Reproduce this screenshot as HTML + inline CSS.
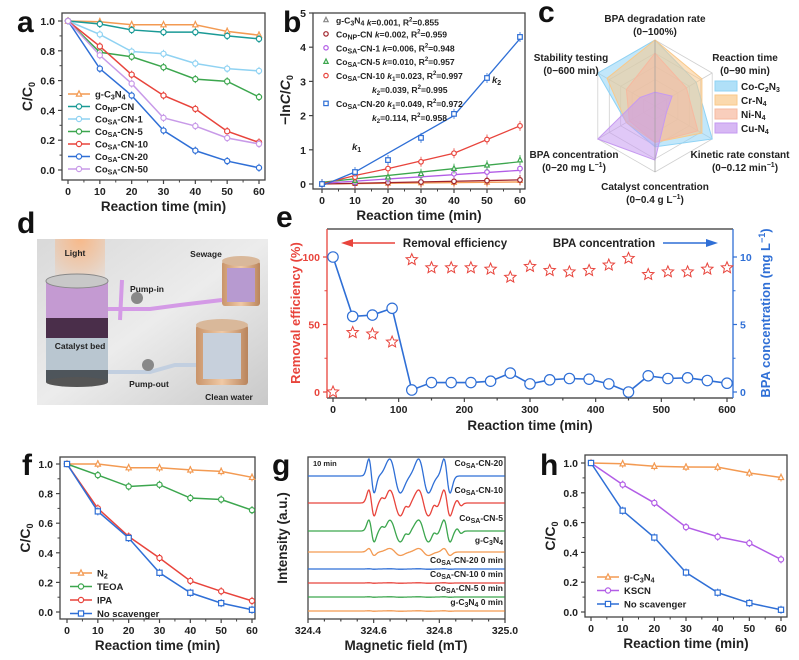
<!DOCTYPE html>
<html><head><meta charset="utf-8"><style>
html,body{margin:0;padding:0;background:#fff;}
svg{display:block;font-family:"Liberation Sans",Arial,sans-serif;font-weight:bold;}
</style></head><body>
<svg id="s" width="799" height="660" viewBox="0 0 799 660" xmlns="http://www.w3.org/2000/svg">
<defs>
<linearGradient id="bg" x1="0" y1="0" x2="1" y2="1"><stop offset="0" stop-color="#d9d9d9"/><stop offset="0.5" stop-color="#ececec"/><stop offset="1" stop-color="#c9c9c9"/></linearGradient>
<linearGradient id="cu" x1="0" y1="0" x2="1" y2="0"><stop offset="0" stop-color="#c9946a"/><stop offset="0.5" stop-color="#f0c9a5"/><stop offset="1" stop-color="#b9845c"/></linearGradient>
<radialGradient id="light" cx="0.5" cy="0" r="0.9"><stop offset="0" stop-color="#f7b98a"/><stop offset="1" stop-color="#f7b98a" stop-opacity="0"/></radialGradient>
</defs>
<g id="root"></g>
</svg>
<script>
const R=document.getElementById('root');let H='';
function t(x,y,s,sz,o){o=o||{};H+=`<text x="${x}" y="${y}" font-size="${sz}" ${o.a?`text-anchor="${o.a}"`:''} fill="${o.c||'#222'}" ${o.tr?`transform="${o.tr}"`:''} ${o.w?`font-weight="${o.w}"`:''}>${s}</text>`;}
function l(x1,y1,x2,y2,c,w){H+=`<line x1="${x1}" y1="${y1}" x2="${x2}" y2="${y2}" stroke="${c||'#333'}" stroke-width="${w||1}"/>`;}
function pl(pts,c,w){H+=`<polyline points="${pts.map(p=>p.join(',')).join(' ')}" fill="none" stroke="${c}" stroke-width="${w||1.5}"/>`;}
function mk(x,y,c,r,sh){r=r||3;if(sh==='sq')H+=`<rect x="${x-r}" y="${y-r}" width="${2*r}" height="${2*r}" fill="#fff" stroke="${c}" stroke-width="1.2"/>`;else if(sh==='tri')H+=`<polygon points="${x},${y-r-0.5} ${x-r},${y+r-0.5} ${x+r},${y+r-0.5}" fill="#fff" stroke="${c}" stroke-width="1.2"/>`;else H+=`<circle cx="${x}" cy="${y}" r="${r}" fill="#fff" stroke="${c}" stroke-width="1.2"/>`;}
function star(x,y,c,r){let p=[];for(let i=0;i<10;i++){let a=-Math.PI/2+i*Math.PI/5,rr=i%2?r*0.45:r;p.push((x+rr*Math.cos(a)).toFixed(1)+','+(y+rr*Math.sin(a)).toFixed(1));}H+=`<polygon points="${p.join(' ')}" fill="none" stroke="${c}" stroke-width="1"/>`;}
function frame(x1,y1,x2,y2){H+=`<rect x="${x1}" y="${y1}" width="${x2-x1}" height="${y2-y1}" fill="none" stroke="#444" stroke-width="1.3"/>`;}
function xaxis(x0,x60,yb,vals,labs,minor){vals.forEach((v,i)=>{let x=x0+(x60-x0)*v;l(x,yb,x,yb+4,'#444',1.2);t(x,yb+15,labs[i],10.5,{a:'middle'});});if(minor)minor.forEach(v=>{let x=x0+(x60-x0)*v;l(x,yb,x,yb+2.5,'#444',1);});}
const T=[0,10,20,30,40,50,60];
function cc(o){
 const {x0,x60,y1,y0,fl,fr,ft,fb}=o;frame(fl,ft,fr,fb);
 const X=v=>x0+(x60-x0)*v/60,Y=v=>y0+(y1-y0)*v;
 [0,.2,.4,.6,.8,1].forEach(v=>{l(fl,Y(v),fl-4,Y(v),'#444',1.2);t(fl-7,Y(v)+4,v.toFixed(1),10.5,{a:'end'});});
 [.1,.3,.5,.7,.9].forEach(v=>l(fl,Y(v),fl-2.5,Y(v),'#444',1));
 xaxis(x0,x60,fb,[0,1/6,2/6,3/6,4/6,5/6,1],['0','10','20','30','40','50','60'],[1/12,3/12,5/12,7/12,9/12,11/12]);
 t((fl+fr)/2,fb+31,'Reaction time (min)',13.5,{a:'middle'});
 t(fl-30,(ft+fb)/2,'C/C<tspan font-size="9" dy="3">0</tspan>',14,{a:'middle',tr:`rotate(-90 ${fl-30} ${(ft+fb)/2})`});
 o.s.forEach(s=>{pl(s.d.map((v,i)=>[X(T[i]),Y(v)]),s.c,1.5);s.d.forEach((v,i)=>{if(i>0){l(X(T[i]),Y(v)-4,X(T[i]),Y(v)+4,s.c,1);}mk(X(T[i]),Y(v),s.c,2.6,s.m);});});
 o.s.forEach((s,i)=>{let y=o.ly+i*o.ld;l(o.lx,y,o.lx+22,y,s.c,1.5);mk(o.lx+11,y,s.c,2.6,s.m);t(o.lx+27,y+3.5,s.n,o.fs||9.5);});
}
const OR='#f39a52',TE='#1a9a96',LB='#8fd2f2',GR='#3ca64e',RD='#e8443c',BL='#2f6fd6',LI='#c89ae8',PU='#b25de6';
const co=(x)=>`Co<tspan font-size="7" dy="2">SA</tspan><tspan dy="-2">${x}</tspan>`;
const gcn='g-C<tspan font-size="7" dy="2">3</tspan><tspan dy="-2">N</tspan><tspan font-size="7" dy="2">4</tspan><tspan dy="-2"></tspan>';
cc({x0:68,x60:259,y1:21,y0:170,fl:62,fr:265,ft:13,fb:180,lx:68,ly:94,ld:12.5,fs:9.5,s:[
{n:gcn,c:OR,m:'tri',d:[1,.995,.975,.975,.975,.93,.905]},
{n:'Co<tspan font-size="7" dy="2">NP</tspan><tspan dy="-2">-CN</tspan>',c:TE,d:[1,.98,.94,.925,.925,.90,.88]},
{n:co('-CN-1'),c:LB,d:[1,.91,.795,.78,.715,.68,.665]},
{n:co('-CN-5'),c:GR,d:[1,.79,.76,.69,.61,.595,.49]},
{n:co('-CN-10'),c:RD,d:[1,.83,.64,.50,.41,.26,.185]},
{n:co('-CN-20'),c:BL,d:[1,.68,.50,.265,.13,.06,.015]},
{n:co('-CN-50'),c:LI,d:[1,.77,.58,.35,.295,.215,.175]}]});
(function(){const x0=322,x60=520,y0=184,sc=34.2;frame(313,13,525,189);
const X=v=>x0+(x60-x0)*v/60,Y=v=>y0-sc*v;
[0,1,2,3,4,5].forEach(v=>{l(313,Y(v),309,Y(v),'#444',1.2);t(306,Y(v)+4,v,10.5,{a:'end'});});
xaxis(x0,x60,189,[0,1/6,2/6,3/6,4/6,5/6,1],['0','10','20','30','40','50','60'],[1/12,3/12,5/12,7/12,9/12,11/12]);
t(419,220,'Reaction time (min)',13.5,{a:'middle'});
t(290,100,'−ln<tspan font-style="italic">C</tspan>/<tspan font-style="italic">C</tspan><tspan font-size="9" dy="3">0</tspan>',14,{a:'middle',tr:'rotate(-90 290 100)'});
const S=[[OR,[0,.01,.02,.03,.04,.05,.1],'tri',[[0,0],[60,.06]]],['#a0222a',[0,.02,.04,.06,.08,.1,.12],'c',[[0,0],[60,.12]]],[PU,[0,.05,.15,.25,.3,.35,.45],'c',[[0,.02],[60,.4]]],[GR,[0,.1,.2,.3,.45,.55,.7],'tri',[[0,.05],[60,.65]]],[RD,[0,.2,.45,.65,.9,1.3,1.7],'c',[[0,.0],[10,.25],[20,.45],[40,.9],[60,1.7]]],[BL,[0,.35,.7,1.35,2.05,3.1,4.3],'sq',[[0,-.05],[10,.35],[20,.9],[40,2.0],[60,4.25]]]];
S.forEach(s=>{pl(s[3].map(p=>[X(p[0]),Y(p[1])]),s[0],1.3);s[1].forEach((v,i)=>{l(X(T[i]),Y(v)-5,X(T[i]),Y(v)+5,s[0],0.8);mk(X(T[i]),Y(v),s[0],2.3,s[2]);});});
t(352,150,'<tspan font-style="italic">k</tspan><tspan font-size="7" dy="2">1</tspan>',9.5);
t(492,83,'<tspan font-style="italic">k</tspan><tspan font-size="7" dy="2">2</tspan>',9.5);
const K='<tspan font-style="italic">k</tspan>';
const L=[['#888','tri',gcn+' '+K+'=0.001, R<tspan font-size="6" dy="-4">2</tspan><tspan dy="4">=0.855</tspan>'],['#a0222a','c','Co<tspan font-size="7" dy="2">NP</tspan><tspan dy="-2">-CN '+K+'=0.002, R</tspan><tspan font-size="6" dy="-4">2</tspan><tspan dy="4">=0.959</tspan>'],[PU,'c',co('-CN-1 '+K+'=0.006, R')+'<tspan font-size="6" dy="-4">2</tspan><tspan dy="4">=0.948</tspan>'],[GR,'tri',co('-CN-5 '+K+'=0.010, R')+'<tspan font-size="6" dy="-4">2</tspan><tspan dy="4">=0.957</tspan>'],[RD,'c',co('-CN-10 '+K+'<tspan font-size="6" dy="2">1</tspan><tspan dy="-2">=0.023, R</tspan>')+'<tspan font-size="6" dy="-4">2</tspan><tspan dy="4">=0.997</tspan>'],[null,null,K+'<tspan font-size="6" dy="2">2</tspan><tspan dy="-2">=0.039, R</tspan><tspan font-size="6" dy="-4">2</tspan><tspan dy="4">=0.995</tspan>'],[BL,'sq',co('-CN-20 '+K+'<tspan font-size="6" dy="2">1</tspan><tspan dy="-2">=0.049, R</tspan>')+'<tspan font-size="6" dy="-4">2</tspan><tspan dy="4">=0.972</tspan>'],[null,null,K+'<tspan font-size="6" dy="2">2</tspan><tspan dy="-2">=0.114, R</tspan><tspan font-size="6" dy="-4">2</tspan><tspan dy="4">=0.958</tspan>']];
L.forEach((e,i)=>{let y=20+i*13.9;if(e[0]){mk(326,y,e[0],2.2,e[1]);t(336,y+3.5,e[2],8.6);}else t(372,y+3.5,e[2],8.6);});
})();
(function(){const cx=655,cy=106,r=66;const ang=[-90,-30,30,90,150,210].map(a=>a*Math.PI/180);
const P=(vals)=>vals.map((v,i)=>(cx+r*v*Math.cos(ang[i])).toFixed(1)+','+(cy+r*v*Math.sin(ang[i])).toFixed(1)).join(' ');
[.2,.4,.6,.8,1].forEach(v=>H+=`<polygon points="${P([v,v,v,v,v,v])}" fill="none" stroke="#d0d0d0" stroke-width="0.8"/>`);
ang.forEach(a=>l(cx,cy,cx+r*Math.cos(a),cy+r*Math.sin(a),'#cfcfcf',0.8));
const polys=[['#8fd3f5',[1,.72,1,.62,.5,1]],['#f9c98a',[1,.82,.82,.55,.5,.84]],['#f6b9a0',[.8,.55,.75,.55,.45,.5]],['#c69af0',[.21,.3,.2,.82,1,.26]]];
polys.forEach(p=>H+=`<polygon points="${P(p[1])}" fill="${p[0]}" fill-opacity="0.55" stroke="${p[0]}" stroke-width="1"/>`);
l(cx,cy-r,cx,cy+r,'#999',0.6);
t(655,22,'BPA degradation rate',10,{a:'middle'});t(655,35,'(0−100%)',10,{a:'middle'});
t(745,61,'Reaction time',10,{a:'middle'});t(745,74,'(0−90 min)',10,{a:'middle'});
t(571,61,'Stability testing',10,{a:'middle'});t(571,74,'(0−600 min)',10,{a:'middle'});
t(740,158,'Kinetic rate constant',10,{a:'middle'});t(745,171,'(0−0.12 min<tspan font-size="7" dy="-4">−1</tspan><tspan dy="4">)</tspan>',10,{a:'middle'});
t(574,158,'BPA concentration',10,{a:'middle'});t(574,171,'(0−20 mg L<tspan font-size="7" dy="-4">−1</tspan><tspan dy="4">)</tspan>',10,{a:'middle'});
t(655,190,'Catalyst concentration',10,{a:'middle'});t(655,203,'(0−0.4 g L<tspan font-size="7" dy="-4">−1</tspan><tspan dy="4">)</tspan>',10,{a:'middle'});
const lg=[['#8fd3f5','Co-C<tspan font-size="7" dy="2">2</tspan><tspan dy="-2">N</tspan><tspan font-size="7" dy="2">3</tspan>'],['#f9c98a','Cr-N<tspan font-size="7" dy="2">4</tspan>'],['#f6b9a0','Ni-N<tspan font-size="7" dy="2">4</tspan>'],['#c69af0','Cu-N<tspan font-size="7" dy="2">4</tspan>']];
lg.forEach((e,i)=>{let y=81+i*14;H+=`<rect x="715" y="${y}" width="22" height="10" fill="${e[0]}" fill-opacity="0.7" stroke="${e[0]}"/>`;t(741,y+9,e[1],10);});
})();
H+=`<rect x="37" y="239" width="231" height="166" fill="url(#bg)"/>
<rect x="55" y="239" width="50" height="60" fill="url(#light)"/>
<rect x="46" y="281" width="62" height="56" fill="#c49ad2"/><rect x="46" y="318" width="62" height="20" fill="#4a2e4a"/>
<rect x="46" y="338" width="62" height="44" fill="#b9c6d0"/><rect x="46" y="370" width="62" height="12" fill="#4e555b"/>
<ellipse cx="77" cy="281" rx="31" ry="7" fill="#c8c8c8" stroke="#888"/><ellipse cx="77" cy="382" rx="31" ry="5" fill="#555"/>
<rect x="222" y="261" width="38" height="45" rx="3" fill="url(#cu)"/><ellipse cx="241" cy="261" rx="19" ry="5" fill="#d9b89a"/><rect x="227" y="268" width="28" height="34" fill="#b79ad0"/>
<rect x="196" y="325" width="52" height="60" rx="3" fill="url(#cu)"/><ellipse cx="222" cy="325" rx="26" ry="6" fill="#d9b89a"/><rect x="203" y="333" width="38" height="46" fill="#c7d0dc"/>
<path d="M108 309 L150 309 L180 305 L222 300" stroke="#d49ae6" stroke-width="4" fill="none"/><path d="M120 320 L122 280" stroke="#d49ae6" stroke-width="4"/>
<path d="M108 372 L150 372 L175 365 L196 365" stroke="#c2cfe0" stroke-width="4" fill="none"/>
<circle cx="137" cy="298" r="6" fill="#888"/><circle cx="148" cy="365" r="6" fill="#888"/>`;
t(75,256,'Light',8.5,{a:'middle'});t(206,257,'Sewage',8.5,{a:'middle'});t(147,292,'Pump-in',8.5,{a:'middle'});
t(80,349,'Catalyst bed',8.5,{a:'middle'});t(149,387,'Pump-out',8.5,{a:'middle'});t(229,400,'Clean water',8.5,{a:'middle'});
(function(){const fl=327,fr=733,ft=229,fb=398,x0=333,x1=727;const X=v=>x0+(x1-x0)*v/600,Y=v=>392-(135)*v/100,Yb=v=>392-13.5*v;
l(fl,ft,fr,ft,'#333',1.3);l(fl,fb,fr,fb,'#333',1.3);l(fl,ft,fl,fb,RD,1.3);l(fr,ft,fr,fb,BL,1.3);
[0,50,100].forEach(v=>{l(fl,Y(v),fl-4,Y(v),RD,1.2);t(fl-7,Y(v)+4,v,10.5,{a:'end',c:RD});});
[25,75].forEach(v=>l(fl,Y(v),fl-2.5,Y(v),RD,1));
[0,5,10].forEach(v=>{l(fr,Yb(v),fr+4,Yb(v),BL,1.2);t(fr+7,Yb(v)+4,v,10.5,{c:BL});});
[2.5,7.5].forEach(v=>l(fr,Yb(v),fr+2.5,Yb(v),BL,1));
for(let v=0;v<=600;v+=50){l(X(v),fb,X(v),fb+(v%100?2.5:4),'#444',1.2);if(v%100==0)t(X(v),fb+15,v,10.5,{a:'middle'});}
t(530,430,'Reaction time (min)',13.5,{a:'middle'});
t(300,313,'Removal efficiency (%)',13,{a:'middle',c:RD,tr:'rotate(-90 300 313)'});
t(770,313,'BPA concentration (mg L<tspan font-size="9" dy="-5">−1</tspan><tspan dy="5">)</tspan>',13,{a:'middle',c:BL,tr:'rotate(-90 770 313)'});
const re=[0,44,43,37,98,92,92,92,91,85,93,90,89,90,94,99,87,89,89,91,92];
const bc=[10,5.6,5.7,6.2,0.15,0.7,0.7,0.7,0.8,1.4,0.6,0.9,1.0,0.95,0.6,0,1.2,1.0,1.05,0.85,0.65];
pl(bc.map((v,i)=>[X(i*30),Yb(v)]),BL,1.6);bc.forEach((v,i)=>mk(X(i*30),Yb(v),BL,5.2));
re.forEach((v,i)=>star(X(i*30),Y(v),RD,6));
H+=`<polygon points="341,243 353,239 353,247" fill="${RD}"/>`;l(352,243,395,243,RD,1.6);
t(455,247,'Removal efficiency',11.5,{a:'middle'});t(604,247,'BPA concentration',11.5,{a:'middle'});
l(663,243,712,243,BL,1.6);H+=`<polygon points="718,243 706,239 706,247" fill="${BL}"/>`;
})();
cc({x0:67,x60:252,y1:464,y0:612,fl:60,fr:255,ft:457,fb:619,lx:70,ly:573,ld:13.5,s:[
{n:'N<tspan font-size="7" dy="2">2</tspan>',c:OR,m:'tri',d:[1,1,.975,.975,.96,.95,.91]},
{n:'TEOA',c:GR,d:[1,.925,.848,.86,.77,.76,.688]},
{n:'IPA',c:RD,d:[1,.70,.51,.365,.21,.14,.075]},
{n:'No scavenger',c:BL,m:'sq',d:[1,.68,.50,.265,.13,.06,.015]}]});
(function(){const fl=308,fr=505,ft=457,fb=619;frame(fl,ft,fr,fb);
for(let i=0;i<=12;i++){let x=fl+(fr-fl)*i/12;l(x,fb,x,fb+(i%4?2.5:4),'#444',1.2);}
['324.4','324.6','324.8','325.0'].forEach((s,i)=>t(fl+(fr-fl)*i/3,fb+15,s,10.5,{a:'middle'}));
t(406,650,'Magnetic field (mT)',13.5,{a:'middle'});
t(287,538,'Intensity (a.u.)',13.5,{a:'middle',tr:'rotate(-90 287 538)'});
t(313,466,'10 min',7.5);
const pk=[[368,375],[388,402],[417,430],[443,451]];
function epr(base,amp,c,mid){let p=[];for(let x=fl;x<=fr;x+=0.7){let y=0;pk.forEach(q=>{let m=(q[0]+q[1])/2,s=(q[1]-q[0])/2.6;let u=(x-m)/s;y+=-u*Math.exp(-u*u/2)*1.65*amp;if(mid){let m2=m+12,u2=(x-m2)/2.2;y+=-u2*Math.exp(-u2*u2/2)*amp*0.35;}});p.push([x.toFixed(1),(base-y).toFixed(1)]);}pl(p,c,1.3);}
epr(476,17,BL);epr(503,13,RD,1);epr(531,11,GR,1);epr(552,3.5,OR);
[[569,BL],[583,RD],[597,GR],[611,OR]].forEach(e=>epr(e[0],0.2,e[1]));
const lab=[[466,co('-CN-20')],[493,co('-CN-10')],[521,co('-CN-5')],[543,gcn],[563,co('-CN-20 0 min')],[577,co('-CN-10 0 min')],[591,co('-CN-5 0 min')],[605,gcn.replace('<tspan dy="-2"></tspan>','<tspan dy="-2"> 0 min</tspan>')]];
lab.forEach(e=>t(503,e[0],e[1],8.5,{a:'end'}));
})();
cc({x0:591,x60:781,y1:463,y0:612,fl:585,fr:787,ft:455,fb:617,lx:597,ly:577,ld:13.5,s:[
{n:gcn,c:OR,m:'tri',d:[1,.995,.978,.973,.972,.933,.903]},
{n:'KSCN',c:PU,d:[1,.855,.732,.57,.505,.462,.353]},
{n:'No scavenger',c:BL,m:'sq',d:[1,.68,.50,.265,.13,.06,.015]}]});
[['a',17,32],['b',283,32],['c',538,22],['d',17,233],['e',276,227],['f',22,475],['g',272,475],['h',540,475]].forEach(e=>t(e[1],e[2],e[0],30,{c:'#111'}));
R.innerHTML=H;
</script>
</body></html>
